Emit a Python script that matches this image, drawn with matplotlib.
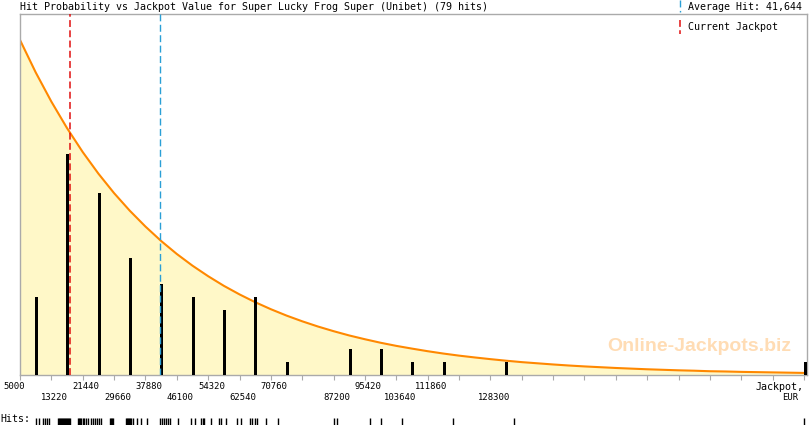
import numpy as np
import matplotlib
matplotlib.use("Agg")
import matplotlib.pyplot as plt

# --- chart data ---
title = "Hit Probability vs Jackpot Value for Super Lucky Frog Super (Unibet) (79 hits)"
average_hit = 41644
current_jackpot = 18150

# every recorded hit, EUR
hits = [9200, 9900, 11000, 11600, 12100, 12600,
        15000, 15300, 15500, 15800, 16000, 16300, 16500, 16800, 17100, 17300, 17600, 17900, 18100,
        20200, 20500, 20700, 21000,
        21500, 21700, 22300, 22800, 23600, 24100, 24700, 25200, 25700, 26200, 28600, 28900, 29100, 29400,
        32800, 33000, 33300, 33600, 33800, 34100, 34600, 35700, 36700,
        38300, 41700, 42200, 42700, 43200, 43800, 44300,
        46400, 49900, 51000, 52500, 53000, 53300,
        55100, 57200, 57700, 59000, 61800,
        62800, 65200, 65700, 66500, 67200, 69500,
        72600,
        87300, 88100,
        96700, 99600,
        105100,
        118600,
        134500,
        210500]

# tick labels along the jackpot axis ('' = tick without label)
tick_labels = ["5000", "13220", "21440", "29660", "37880", "46100", "54320", "62540",
               "70760", "", "87200", "95420", "103640", "111860", "", "128300",
               "", "", "", "", "", "", "", "", "", ""]

# hit probability curve, sampled every half tick (in hit-count units)
curve_level = [25.77, 23.28, 21.03, 18.99, 17.15, 15.49, 13.99, 12.64, 11.42, 10.31,
               9.31, 8.41, 7.60, 6.86, 6.20, 5.60, 5.06, 4.57, 4.13, 3.73,
               3.37, 3.04, 2.75, 2.48, 2.24, 2.03, 1.83, 1.65, 1.49, 1.35,
               1.22, 1.10, 0.99, 0.90, 0.81, 0.73, 0.66, 0.60, 0.54, 0.49,
               0.44, 0.40, 0.36, 0.33, 0.29, 0.27, 0.24, 0.22, 0.20, 0.18, 0.16]

# --- layout helpers (pixels -> figure fraction) ---
W, H = 810, 425
def fx(px):
    return px / W
def fy(py):
    return 1 - py / H

mono = "DejaVu Sans Mono"
bin_width = 8220
x_min = 5000
x_max = 211290
ticks = np.arange(x_min, x_min + bin_width * len(tick_labels), bin_width)
curve_x = x_min + bin_width / 2 * np.arange(len(curve_level))

fig = plt.figure(figsize=(W / 100, H / 100), dpi=100)
ax = fig.add_axes([fx(20), fy(375), fx(787), 361 / H])
ax.set_xlim(x_min, x_max)
ax.set_ylim(0, 361 / 13)

# histogram of hits
edges = np.arange(x_min, x_min + bin_width * 27, bin_width)
counts, _ = np.histogram(hits, bins=edges)
centers = edges[:-1] + bin_width / 2 + 200
centers = np.minimum(centers, x_max - 300)
keep = counts > 0

ax.fill_between(curve_x, curve_level, color="#fff8c8", lw=0, zorder=1)
ax.plot(curve_x, curve_level, color="#ff8800", lw=1.5, zorder=2)
ax.bar(centers[keep], counts[keep], width=800, color="black", zorder=3)

ax.axvline(current_jackpot, color="#e01010", lw=1.1, ls=(0, (4.5, 2.2)), zorder=4)
ax.axvline(average_hit, color="#2a9fd6", lw=1.0, ls=(0, (5, 2.5)), zorder=4)

# frame
for side in ["left", "top", "right", "bottom"]:
    ax.spines[side].set_color("#aaaaaa")
    ax.spines[side].set_linewidth(1.0)
ax.set_yticks([])
ax.set_xticks(ticks)
ax.set_xticklabels([])
ax.tick_params(axis="x", direction="out", length=3.6, width=0.8, color="#aaaaaa")

row = 0
for t, lab in zip(ticks, tick_labels):
    if not lab:
        continue
    dx = -4.5 if t == x_min else 2.5
    dy = -8 if row == 0 else -16
    ax.annotate(lab, xy=(t, 0), xycoords=("data", "axes fraction"),
                xytext=(dx, dy), textcoords="offset points",
                ha="center", va="center", fontsize=6.4, family=mono)
    row = 1 - row

fig.text(fx(804), fy(387), "Jackpot,", ha="right", va="center", fontsize=7.2, family=mono)
fig.text(fx(790), fy(397), "EUR", ha="center", va="center", fontsize=6.4, family=mono)

# watermark
ax.text(0.863, 0.078, "Online-Jackpots.biz", transform=ax.transAxes, ha="center", va="center",
        fontsize=14, fontweight="bold", family="Liberation Sans", color="#ffdcb4", zorder=0)

# title and legend
fig.text(fx(20), fy(7), title, ha="left", va="center", fontsize=7.2, family=mono)
fig.text(fx(688), fy(7), f"Average Hit: {average_hit:,}", ha="left", va="center", fontsize=7.2, family=mono)
fig.text(fx(688), fy(27), "Current Jackpot", ha="left", va="center", fontsize=7.2, family=mono)
fig.add_artist(plt.Line2D([fx(680), fx(680)], [fy(0), fy(12)], color="#2a9fd6", lw=1.0,
                          ls=(0, (5, 2.5)), transform=fig.transFigure))
fig.add_artist(plt.Line2D([fx(680), fx(680)], [fy(20), fy(34)], color="#e01010", lw=1.1,
                          ls=(0, (4.5, 2.2)), transform=fig.transFigure))

# hits rug
rug = fig.add_axes([fx(20), 0, fx(787), 7 / H])
rug.set_xlim(x_min, x_max)
rug.set_ylim(0, 1)
rug.axis("off")
rug.vlines(hits, 0, 1, color="black", lw=1.0)
fig.text(0, fy(419), "Hits:", ha="left", va="center", fontsize=7.2, family=mono)

fig.savefig("out.png", dpi=100)
